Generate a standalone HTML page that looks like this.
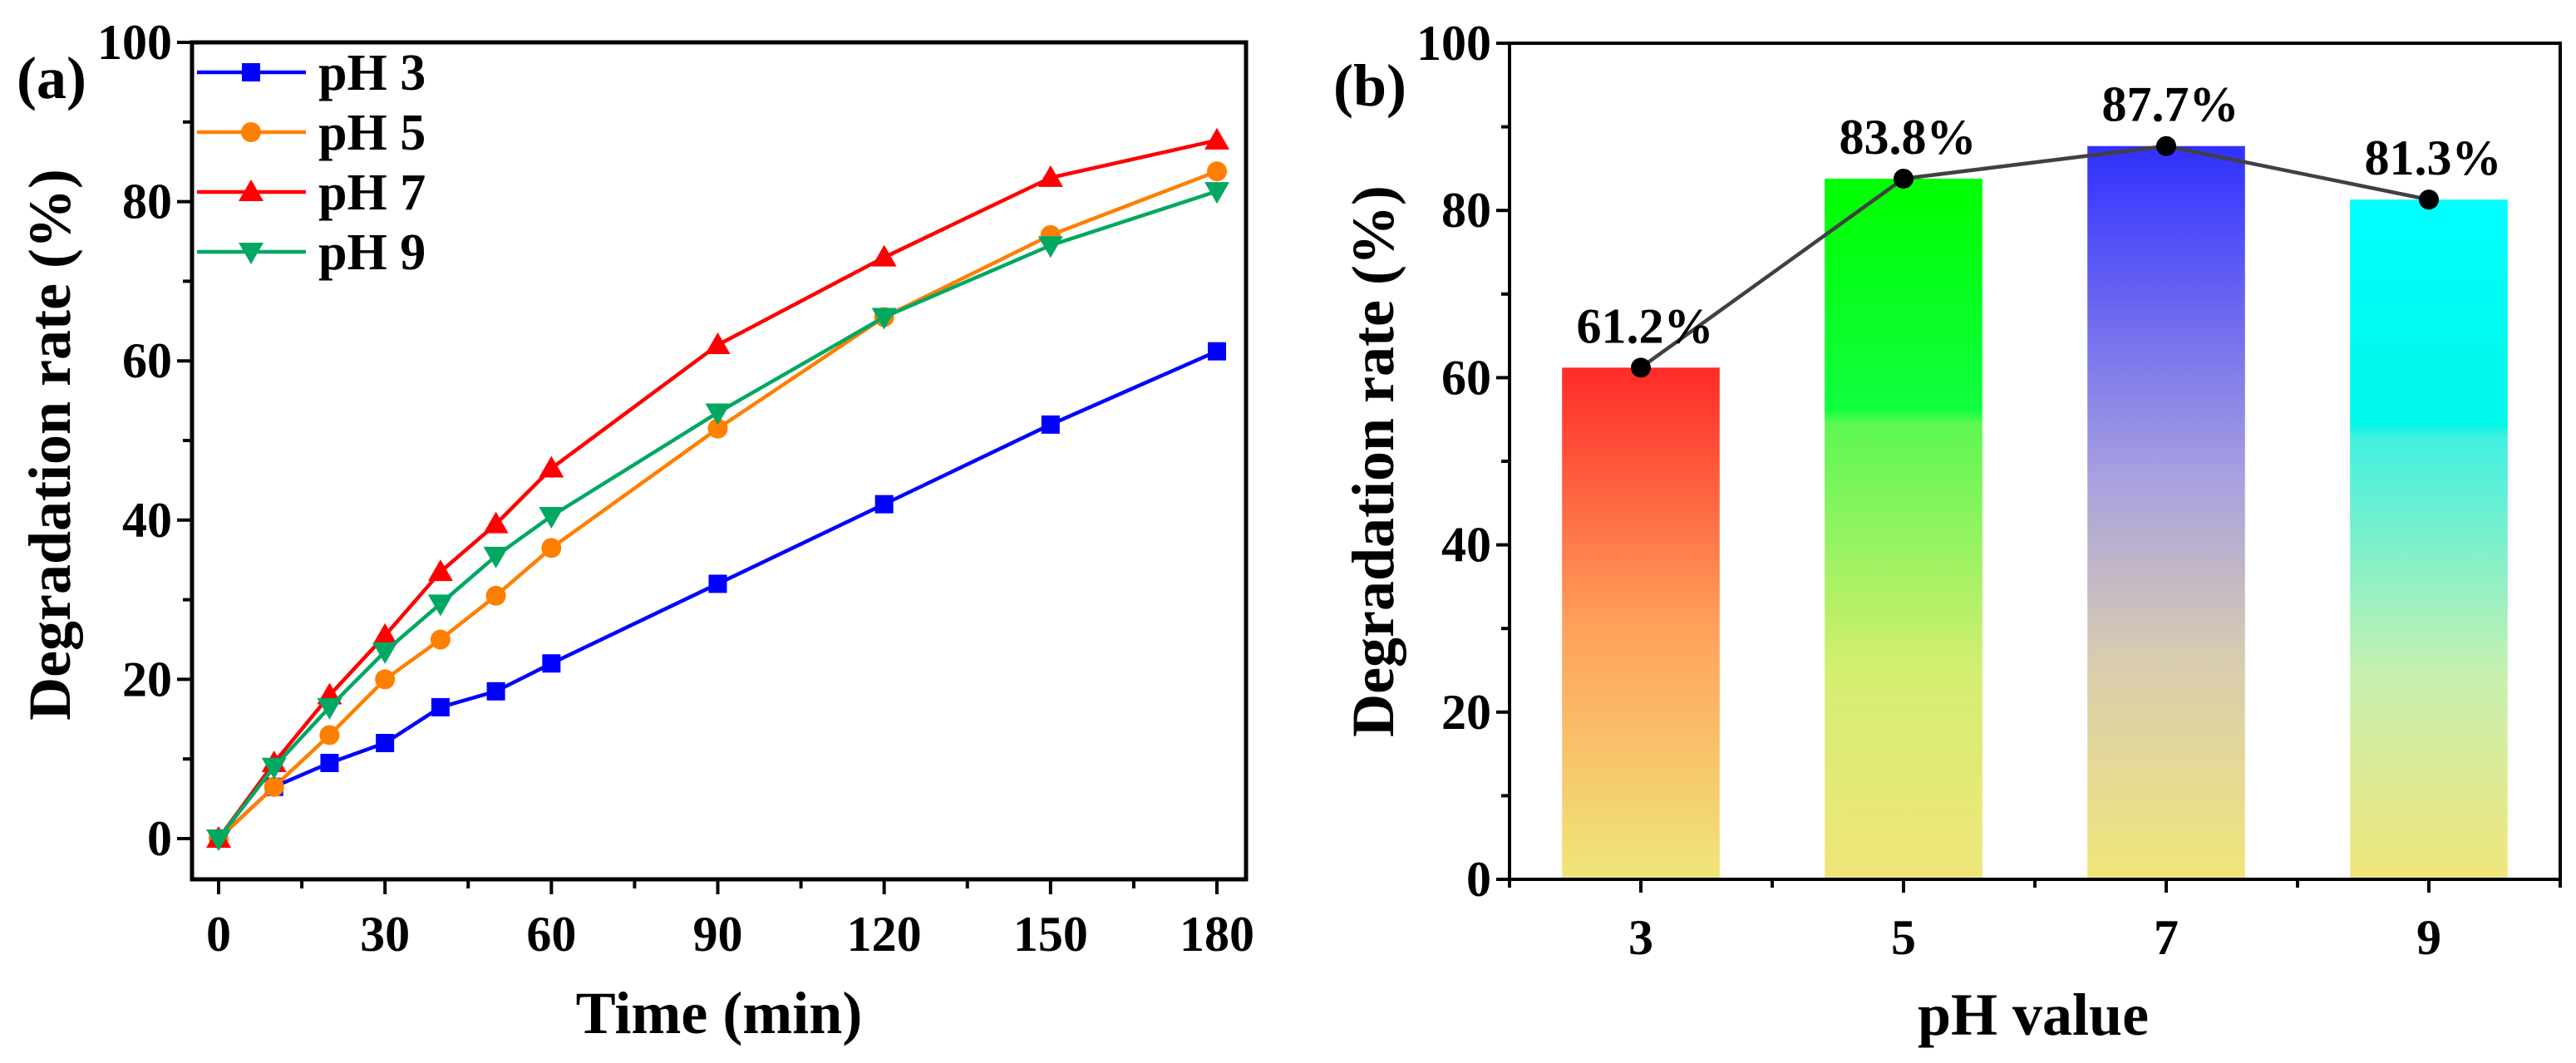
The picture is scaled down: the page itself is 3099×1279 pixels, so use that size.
<!DOCTYPE html>
<html><head><meta charset="utf-8"><style>
html,body{margin:0;padding:0;background:#fff;}
svg{display:block;font-family:"Liberation Serif",serif;font-weight:bold;}
</style></head><body>
<svg id="fig" width="3099" height="1279" viewBox="0 0 3099 1279" xmlns="http://www.w3.org/2000/svg">
<defs>
<linearGradient id="gRed" x1="0" y1="0" x2="0" y2="1"><stop offset="0" stop-color="#ff2a28"/><stop offset="0.5" stop-color="#ffa05a"/><stop offset="1" stop-color="#f0e67a"/></linearGradient>
<linearGradient id="gGreen" x1="0" y1="0" x2="0" y2="1"><stop offset="0" stop-color="#00ff00"/><stop offset="0.33" stop-color="#10ff40"/><stop offset="0.35" stop-color="#5cf850"/><stop offset="0.7" stop-color="#d4ee70"/><stop offset="1" stop-color="#f0e67a"/></linearGradient>
<linearGradient id="gBlue" x1="0" y1="0" x2="0" y2="1"><stop offset="0" stop-color="#3030ff"/><stop offset="0.45" stop-color="#a8a0e0"/><stop offset="0.7" stop-color="#d8ccb0"/><stop offset="1" stop-color="#f0e67a"/></linearGradient>
<linearGradient id="gCyan" x1="0" y1="0" x2="0" y2="1"><stop offset="0" stop-color="#00ffff"/><stop offset="0.33" stop-color="#00f8e8"/><stop offset="0.35" stop-color="#40f0e0"/><stop offset="0.7" stop-color="#c8f0b0"/><stop offset="1" stop-color="#f0e67a"/></linearGradient>
</defs>
<g id="left"></g>
<g id="right"></g>
</svg>
<script>
// ---- Panel (a) data ----
const times = [0,10,20,30,40,50,60,90,120,150,180];
const seriesNames = ["pH 3","pH 5","pH 7","pH 9"];
const pH3 = [0,6.5,9.5,12,16.5,18.5,22,32,42,52,61.2];
const pH5 = [0,6.5,13,20,25,30.5,36.5,51.5,65.5,75.8,83.8];
const pH7 = [0,9.5,18,25.5,33.5,39.5,46.5,62,73,83,87.7];
const pH9 = [0,9,16.5,23.5,29.5,35.5,40.5,53.5,65.5,74.5,81.3];
const xTicksA = [0,30,60,90,120,150,180];
const yTicks = [0,20,40,60,80,100];
// ---- Panel (b) data ----
const phCats = ["3","5","7","9"];
const phRates = [61.2,83.8,87.7,81.3];
const phLabels = ["61.2%","83.8%","87.7%","81.3%"];

const NS="http://www.w3.org/2000/svg";
function mk(parent,tag,attrs,text){const e=document.createElementNS(NS,tag);for(const k in attrs)e.setAttribute(k,attrs[k]);if(text!==undefined)e.textContent=text;parent.appendChild(e);return e;}

const TF=60, TT=72;
// ---------- Panel A ----------
const L=document.getElementById('left');
const aL=231,aR=1499,aT=51,aB=1058;
const xA=t=>263+(t-0)*(1464-263)/180;
const yA=v=>1009-(v)*(1009-51)/100;
let fr=mk(L,'rect',{x:aL,y:aT,width:aR-aL,height:aB-aT,fill:'none',stroke:'#000','stroke-width':5});


for(let v=0;v<=100;v+=10){
  const major=v%20===0;
  const t=mk(L,'line',{x1:aL,x2:aL-(major?18:11),y1:yA(v),y2:yA(v),stroke:'#000','stroke-width':4});
  
  
}
yTicks.forEach(v=>{
  const t=mk(L,'text',{x:aL-24,y:yA(v)+20,'text-anchor':'end','font-size':TF},String(v));
  
  
});
for(let v=0;v<=180;v+=15){
  const major=v%30===0;
  const t=mk(L,'line',{x1:xA(v),x2:xA(v),y1:aB,y2:aB+(major?18:11),stroke:'#000','stroke-width':4});
  
  
}
xTicksA.forEach(v=>{
  const t=mk(L,'text',{x:xA(v),y:aB+86,'text-anchor':'middle','font-size':TF},String(v));
  
  
});
let tt=mk(L,'text',{x:865,y:1243,'text-anchor':'middle','font-size':TT},'Time (min)');


tt=mk(L,'text',{x:0,y:0,transform:'translate(84,535) rotate(-90)','text-anchor':'middle','font-size':TT},'Degradation rate (%)');


tt=mk(L,'text',{x:20,y:118,'font-size':TT},'(a)');



const colors=['#0000ff','#ff7f00','#ff0000','#00a862'];
const shapes=['square','circle','up','down'];
const allSeries=[pH3,pH5,pH7,pH9];
function marker(g,shape,cx,cy,col){
  const s=11;
  if(shape==='square') return mk(g,'rect',{x:cx-s,y:cy-s,width:2*s,height:2*s,fill:col});
  if(shape==='circle') return mk(g,'circle',{cx:cx,cy:cy,r:12,fill:col});
  if(shape==='up') return mk(g,'polygon',{points:`${cx},${cy-15} ${cx-15},${cy+11} ${cx+15},${cy+11}`,fill:col});
  return mk(g,'polygon',{points:`${cx},${cy+15} ${cx-15},${cy-11} ${cx+15},${cy-11}`,fill:col});
}
allSeries.forEach((arr,si)=>{
  const g=mk(L,'g',{});
  
  
  const pts=arr.map((v,i)=>xA(times[i])+','+yA(v)).join(' ');
  const pl=mk(g,'polyline',{points:pts,fill:'none',stroke:colors[si],'stroke-width':4.5,'stroke-linejoin':'round'});
  
  
  arr.forEach((v,i)=>{
    const m=marker(g,shapes[si],xA(times[i]),yA(v),colors[si]);
    
    
  });
  const ly=87+si*72;
  const lg=mk(L,'g',{});
  
  
  mk(lg,'line',{x1:237,x2:368,y1:ly,y2:ly,stroke:colors[si],'stroke-width':4.5});
  marker(lg,shapes[si],302,ly,colors[si]);
  mk(lg,'text',{x:383,y:ly+21,'font-size':62},seriesNames[si]);
});

// ---------- Panel B ----------
const R=document.getElementById('right');
const bL=1816,bR=3080,bT=52,bB=1058;
const step=(bR-bL)/4;
const xB=i=>bL+step*(i+0.5);
const yB=v=>bB-v*(bB-bT)/100;
const grads=['url(#gRed)','url(#gGreen)','url(#gBlue)','url(#gCyan)'];
const bw=step*0.6;
phRates.forEach((v,i)=>{
  const b=mk(R,'rect',{x:xB(i)-bw/2,y:yB(v),width:bw,height:yB(0)-yB(v),fill:grads[i]});
  
  
});
fr=mk(R,'rect',{x:bL,y:bT,width:bR-bL,height:bB-bT,fill:'none',stroke:'#000','stroke-width':4});


for(let v=0;v<=100;v+=10){
  const major=v%20===0;
  const t=mk(R,'line',{x1:bL,x2:bL-(major?16:10),y1:yB(v),y2:yB(v),stroke:'#000','stroke-width':4});
  
  
}
yTicks.forEach(v=>{
  const t=mk(R,'text',{x:bL-22,y:yB(v)+20,'text-anchor':'end','font-size':TF},String(v));
  
  
});
for(let k=0;k<=8;k++){
  const x=bL+step*k/2;
  const t=mk(R,'line',{x1:x,x2:x,y1:bB,y2:bB+(k%2===1?16:10),stroke:'#000','stroke-width':4});
  
  
}
phCats.forEach((c,i)=>{
  const t=mk(R,'text',{x:xB(i),y:bB+90,'text-anchor':'middle','font-size':TF},c);
  
  
});
tt=mk(R,'text',{x:2446,y:1245,'text-anchor':'middle','font-size':TT},'pH value');


tt=mk(R,'text',{x:0,y:0,transform:'translate(1676,555) rotate(-90)','text-anchor':'middle','font-size':TT},'Degradation rate (%)');


tt=mk(R,'text',{x:1604,y:127,'font-size':TT},'(b)');


const tl=mk(R,'polyline',{points:phRates.map((v,i)=>xB(i)+','+yB(v)).join(' '),fill:'none',stroke:'#404040','stroke-width':4.5});


phRates.forEach((v,i)=>{
  const d=mk(R,'circle',{cx:xB(i),cy:yB(v),r:12,fill:'#000'});
  
  
  const t=mk(R,'text',{x:xB(i)+5,y:yB(v)-30,'text-anchor':'middle','font-size':60},phLabels[i]);
  
  
});
</script>
</body></html>
